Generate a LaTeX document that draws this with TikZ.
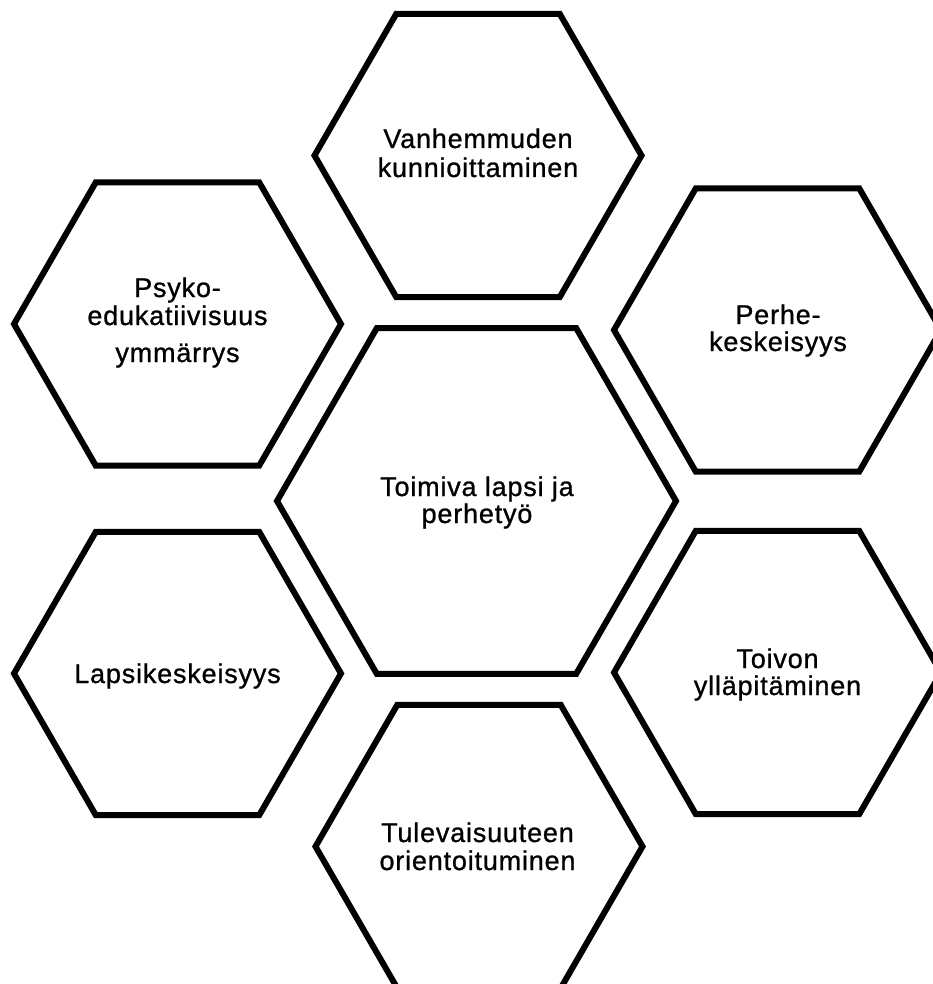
\documentclass[tikz,border=0pt]{standalone}
\usepackage{fontspec}
\setmainfont{Liberation Sans}[LetterSpace=3,FakeBold=0.9]
\usetikzlibrary{shapes.geometric}
\begin{document}
\begin{tikzpicture}[x=1pt,y=-1pt,
  hexs/.style={draw=black,line width=6pt,regular polygon,regular polygon sides=6,minimum size=327pt,inner sep=0pt,fill=white},
  hexl/.style={hexs,minimum size=399pt},
  lbl/.style={anchor=base,inner sep=0pt,font=\fontsize{27}{28}\selectfont,text=black}]
\useasboundingbox[fill=white] (0,0) rectangle (932,984);
% hexagons
\node[hexs] (hV) at (478,155.5) {};
\node[hexs] (hP) at (177.5,324) {};
\node[hexs] (hF) at (777.5,330) {};
\node[hexl] (hC) at (476.5,501) {};
\node[hexs] (hL) at (177.5,673.5) {};
\node[hexs] (hT) at (777.5,672.5) {};
\node[hexs] (hU) at (479,846.5) {};
% texts
\node[lbl] (tV1) at (478,148) {Vanhemmuden};
\node[lbl] (tV2) at (478,177) {kunnioittaminen};
\node[lbl] (tP1) at (177.5,297) {Psyko-};
\node[lbl] (tP2) at (177.5,325) {edukatiivisuus};
\node[lbl] (tP3) at (177.5,362) {ymmärrys};
\node[lbl] (tF1) at (778,324) {Perhe-};
\node[lbl] (tF2) at (778,351) {keskeisyys};
\node[lbl] (tC1) at (477,496) {Toimiva lapsi ja};
\node[lbl] (tC2) at (477,523) {perhetyö};
\node[lbl] (tL1) at (177.5,683) {Lapsikeskeisyys};
\node[lbl] (tT1) at (777.5,668) {Toivon};
\node[lbl] (tT2) at (777.5,695) {ylläpitäminen};
\node[lbl] (tU1) at (477.5,842) {Tulevaisuuteen};
\node[lbl] (tU2) at (477.5,870) {orientoituminen};
\end{tikzpicture}
\end{document}
